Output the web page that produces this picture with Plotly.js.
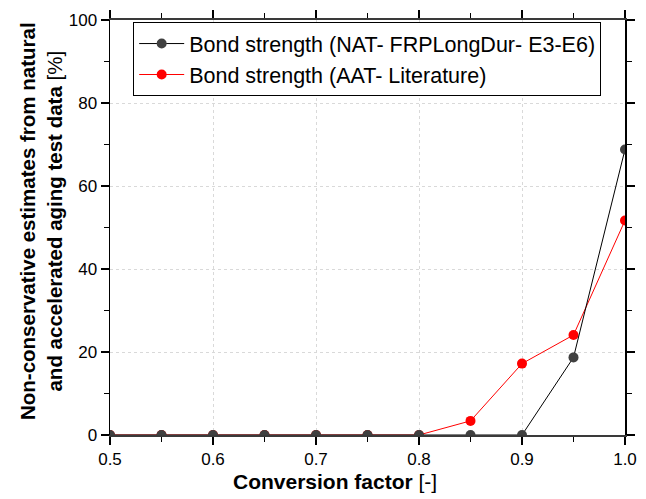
<!DOCTYPE html>
<html>
<head>
<meta charset="utf-8">
<script src="https://cdn.plot.ly/plotly-3.0.1.min.js"></script>
<style>html,body{margin:0;padding:0;background:#fff;}#chart{width:646px;height:499px;}</style>
</head>
<body>
<div id="chart"></div>
<script>
const conversionFactor = [0.5, 0.55, 0.6, 0.65, 0.7, 0.75, 0.8, 0.85, 0.9, 0.95, 1.0];
const bondNAT = [0, 0, 0, 0, 0, 0, 0, 0, 0, 18.7, 68.8];
const bondAAT = [0, 0, 0, 0, 0, 0, 0, 3.4, 17.2, 24.1, 51.7];
const nameNAT = 'Bond strength (NAT- FRPLongDur- E3-E6)';
const nameAAT = 'Bond strength (AAT- Literature)';
const xTitle = '<b>Conversion factor</b> [-]';
const yTitle = '<b>Non-conservative estimates from natural</b><br><b>and accelerated aging test data</b> [%]';

const traces = [
  {
    x: conversionFactor, y: bondAAT, name: nameAAT, type: 'scatter', mode: 'lines+markers',
    line: {color: '#ff0000', width: 1},
    marker: {color: '#ff0000', size: 10}
  },
  {
    x: conversionFactor, y: bondNAT, name: nameNAT, type: 'scatter', mode: 'lines+markers',
    line: {color: '#000000', width: 1},
    marker: {color: '#404040', size: 10}
  }
];

const minorX = {dtick: 0.05, tick0: 0.5, ticks: 'outside', ticklen: 5, tickwidth: 1.5, tickcolor: '#000', showgrid: false};
const minorY = {dtick: 10, tick0: 0, ticks: 'outside', ticklen: 5, tickwidth: 1.5, tickcolor: '#000', showgrid: false};

const layout = {
  width: 646, height: 499,
  margin: {l: 110, r: 21, t: 20, b: 64, pad: 0},
  paper_bgcolor: '#ffffff', plot_bgcolor: '#ffffff',
  font: {family: 'Liberation Sans, Arial, sans-serif', color: '#000000', size: 17},
  showlegend: true,
  legend: {
    x: 0.045, y: 0.995, xanchor: 'left', yanchor: 'top',
    bgcolor: '#ffffff', bordercolor: '#000000', borderwidth: 1,
    font: {size: 21.5, color: '#000000'},
    traceorder: 'reversed', itemwidth: 45, tracegroupgap: 0
  },
  xaxis: {
    range: [0.5, 1.0], tickmode: 'linear', tick0: 0.5, dtick: 0.1, tickformat: '.1f',
    ticks: 'outside', ticklen: 8, tickwidth: 1.5, tickcolor: '#000',
    minor: minorX,
    showline: true, linecolor: '#3a3a3a', linewidth: 2,
    showgrid: true, gridcolor: '#d9d9d9', griddash: 'dot', gridwidth: 1,
    zeroline: false, tickfont: {size: 17}
  },
  xaxis2: {
    overlaying: 'x', side: 'top', anchor: 'y',
    range: [0.5, 1.0], tickmode: 'linear', tick0: 0.5, dtick: 0.1,
    ticks: 'outside', ticklen: 8, tickwidth: 1.5, tickcolor: '#000',
    minor: minorX, showticklabels: false,
    showline: true, linecolor: '#3a3a3a', linewidth: 2,
    showgrid: false, zeroline: false
  },
  yaxis: {
    range: [0, 100], tickmode: 'linear', tick0: 0, dtick: 20,
    ticks: 'outside', ticklen: 8, tickwidth: 1.5, tickcolor: '#000',
    minor: minorY,
    showline: true, linecolor: '#000000', linewidth: 1.5,
    showgrid: true, gridcolor: '#d9d9d9', griddash: 'dot', gridwidth: 1,
    zeroline: false, tickfont: {size: 17}
  },
  yaxis2: {
    overlaying: 'y', side: 'right', anchor: 'x',
    range: [0, 100], tickmode: 'linear', tick0: 0, dtick: 20,
    ticks: 'outside', ticklen: 8, tickwidth: 1.5, tickcolor: '#000',
    minor: minorY, showticklabels: false,
    showline: true, linecolor: '#000000', linewidth: 2,
    showgrid: false, zeroline: false
  },
  annotations: [
    {
      text: xTitle, xref: 'paper', yref: 'paper', x: (335 - 110) / 515, y: -(481 - 435) / 415,
      xanchor: 'center', yanchor: 'middle', showarrow: false, font: {size: 21, color: '#000'}
    },
    {
      text: yTitle, xref: 'paper', yref: 'paper', x: -(110 - 41) / 515, y: (435 - 221) / 415,
      xanchor: 'center', yanchor: 'middle', textangle: -90, showarrow: false, font: {size: 20.5, color: '#000'}
    }
  ]
};

// Invisible helper traces bind the mirrored top and right axes to the same scales.
traces.push({x: [conversionFactor[0]], y: [bondNAT[0]], xaxis: 'x2', yaxis: 'y', type: 'scatter', mode: 'markers', marker: {opacity: 0}, showlegend: false, hoverinfo: 'skip'});
traces.push({x: [conversionFactor[0]], y: [bondNAT[0]], xaxis: 'x', yaxis: 'y2', type: 'scatter', mode: 'markers', marker: {opacity: 0}, showlegend: false, hoverinfo: 'skip'});

Plotly.newPlot('chart', traces, layout, {displayModeBar: false, staticPlot: true});
</script>
</body>
</html>
